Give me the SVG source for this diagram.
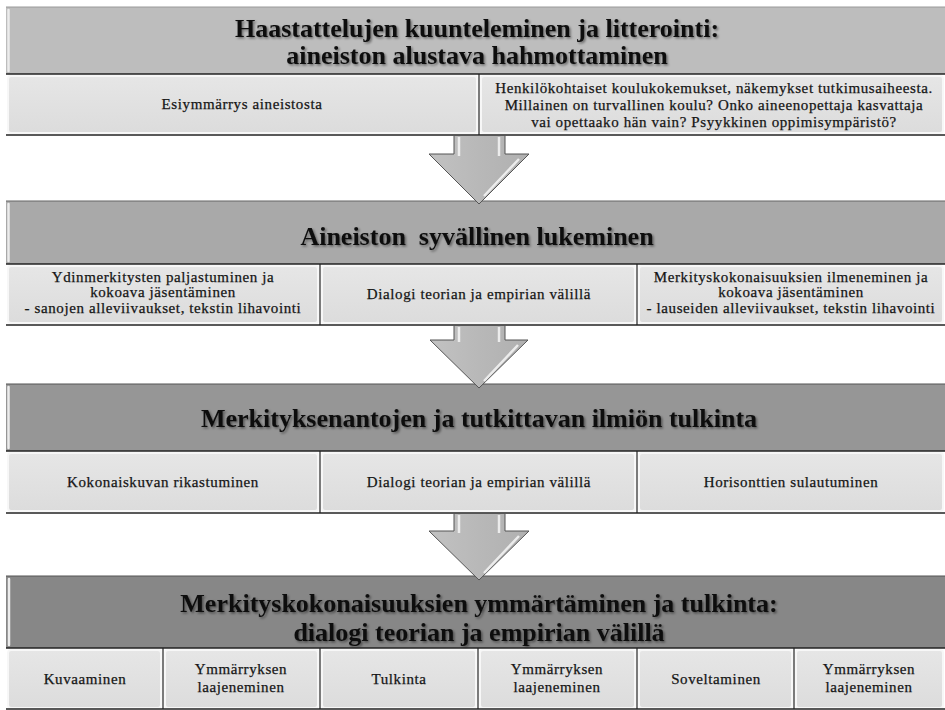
<svg xmlns="http://www.w3.org/2000/svg" width="945" height="710" viewBox="0 0 945 710">
  <defs>
    <linearGradient id="cellFill" x1="0" y1="0" x2="0" y2="1">
      <stop offset="0" stop-color="#e6e6e6"/>
      <stop offset="1" stop-color="#dcdcdc"/>
    </linearGradient>
    <linearGradient id="arrowFill" x1="0" y1="0" x2="1" y2="0">
      <stop offset="0" stop-color="#c2c2c2"/>
      <stop offset="0.5" stop-color="#b8b8b8"/>
      <stop offset="1" stop-color="#b0b0b0"/>
    </linearGradient>
    <filter id="shadow" x="-5%" y="-30%" width="110%" height="160%">
      <feDropShadow dx="1.5" dy="1.5" stdDeviation="1.2" flood-color="#000" flood-opacity="0.45"/>
    </filter>
  </defs>
  <style>
    .title { font-family: "Liberation Serif", "Times New Roman", serif; font-weight: bold; font-size: 26px; fill: #111; text-anchor: middle; }
    .label { font-family: "Liberation Serif", "Times New Roman", serif; font-size: 15px; letter-spacing: 0.6px; fill: #151515; stroke: #151515; stroke-width: 0.25; text-anchor: middle; }
    .cell { fill: url(#cellFill); stroke: #f7f7f7; stroke-width: 2; }
    .rule { stroke: #222; stroke-width: 1.5; fill: none; }
    .divider { stroke: #222; stroke-width: 1.2; }
    .bevel { stroke: #ececec; stroke-width: 2.5; fill: none; stroke-linecap: round; }
    .arrow { fill: url(#arrowFill); stroke: #555; stroke-width: 1; stroke-linejoin: miter; }
    .arrow-hi { stroke: #f2f2f2; stroke-width: 2.5; fill: none; opacity: 0.9; }
  </style>

  <rect width="945" height="710" fill="#ffffff"/>

  <!-- Stage 1 -->
  <g id="stage1">
    <rect x="6" y="7" width="939" height="67" fill="#bdbdbd"/>
    <line x1="6" y1="7" x2="945" y2="7" stroke="#9a9a9a" stroke-width="1"/>
    <path class="bevel" d="M8.5 71 V10"/>
    <g filter="url(#shadow)">
      <text class="title" x="477" y="37">Haastattelujen kuunteleminen ja litterointi:</text>
      <text class="title" x="477" y="64">aineiston alustava hahmottaminen</text>
    </g>
    <rect class="cell" x="8" y="76" width="469" height="57" rx="3"/>
    <rect class="cell" x="481" y="76" width="462" height="57" rx="3"/>
    <line class="divider" x1="479" y1="74" x2="479" y2="135"/>
    <line class="rule" x1="6" y1="74" x2="945" y2="74"/>
    <line class="rule" x1="6" y1="135" x2="945" y2="135"/>
    <text class="label" x="242" y="109">Esiymmärrys aineistosta</text>
    <text class="label" x="714" y="93">Henkilökohtaiset koulukokemukset, näkemykset tutkimusaiheesta.</text>
    <text class="label" x="714" y="110">Millainen on turvallinen koulu? Onko aineenopettaja kasvattaja</text>
    <text class="label" x="714" y="127">vai opettaako hän vain? Psyykkinen oppimisympäristö?</text>
  </g>

  <!-- Stage 2 -->
  <g id="stage2">
    <rect x="6" y="201" width="939" height="63" fill="#a9a9a9"/>
    <line x1="6" y1="201" x2="945" y2="201" stroke="#666" stroke-width="1.2"/>
    <path class="bevel" d="M8.5 261 V204"/>
    <g filter="url(#shadow)">
      <text class="title" x="477" y="245" xml:space="preserve">Aineiston  syvällinen lukeminen</text>
    </g>
    <rect class="cell" x="8" y="266" width="310" height="57" rx="3"/>
    <rect class="cell" x="322" y="266" width="313" height="57" rx="3"/>
    <rect class="cell" x="639" y="266" width="304" height="57" rx="3"/>
    <line class="divider" x1="320" y1="264" x2="320" y2="325"/>
    <line class="divider" x1="637" y1="264" x2="637" y2="325"/>
    <line class="rule" x1="6" y1="264" x2="945" y2="264"/>
    <line class="rule" x1="6" y1="325" x2="945" y2="325"/>
    <text class="label" x="163" y="282">Ydinmerkitysten paljastuminen ja</text>
    <text class="label" x="163" y="297">kokoava jäsentäminen</text>
    <text class="label" x="163" y="313">- sanojen alleviivaukset, tekstin lihavointi</text>
    <text class="label" x="479" y="299">Dialogi teorian ja empirian välillä</text>
    <text class="label" x="791" y="282">Merkityskokonaisuuksien ilmeneminen ja</text>
    <text class="label" x="791" y="297">kokoava jäsentäminen</text>
    <text class="label" x="791" y="313">- lauseiden alleviivaukset, tekstin lihavointi</text>
  </g>

  <!-- Stage 3 -->
  <g id="stage3">
    <rect x="6" y="384" width="939" height="67" fill="#969696"/>
    <line x1="6" y1="384" x2="945" y2="384" stroke="#555" stroke-width="1.2"/>
    <path class="bevel" d="M8.5 448 V387"/>
    <g filter="url(#shadow)">
      <text class="title" x="479" y="427">Merkityksenantojen ja tutkittavan ilmiön tulkinta</text>
    </g>
    <rect class="cell" x="8" y="453" width="310" height="58" rx="3"/>
    <rect class="cell" x="322" y="453" width="313" height="58" rx="3"/>
    <rect class="cell" x="639" y="453" width="304" height="58" rx="3"/>
    <line class="divider" x1="320" y1="451" x2="320" y2="513"/>
    <line class="divider" x1="637" y1="451" x2="637" y2="513"/>
    <line class="rule" x1="6" y1="451" x2="945" y2="451"/>
    <line class="rule" x1="6" y1="513" x2="945" y2="513"/>
    <text class="label" x="163" y="487">Kokonaiskuvan rikastuminen</text>
    <text class="label" x="479" y="487">Dialogi teorian ja empirian välillä</text>
    <text class="label" x="791" y="487">Horisonttien sulautuminen</text>
  </g>

  <!-- Stage 4 -->
  <g id="stage4">
    <rect x="6" y="576" width="939" height="72" fill="#878787"/>
    <line x1="6" y1="576" x2="945" y2="576" stroke="#555" stroke-width="1.2"/>
    <path class="bevel" d="M9 645 V579"/>
    <g filter="url(#shadow)">
      <text class="title" x="479" y="612">Merkityskokonaisuuksien ymmärtäminen ja tulkinta:</text>
      <text class="title" x="479" y="641">dialogi teorian ja empirian välillä</text>
    </g>
    <rect class="cell" x="8" y="650" width="153" height="58" rx="3"/>
    <rect class="cell" x="165" y="650" width="153" height="58" rx="3"/>
    <rect class="cell" x="322" y="650" width="154" height="58" rx="3"/>
    <rect class="cell" x="480" y="650" width="155" height="58" rx="3"/>
    <rect class="cell" x="639" y="650" width="153" height="58" rx="3"/>
    <rect class="cell" x="796" y="650" width="147" height="58" rx="3"/>
    <line class="divider" x1="163" y1="648" x2="163" y2="709"/>
    <line class="divider" x1="320" y1="648" x2="320" y2="709"/>
    <line class="divider" x1="478" y1="648" x2="478" y2="709"/>
    <line class="divider" x1="637" y1="648" x2="637" y2="709"/>
    <line class="divider" x1="794" y1="648" x2="794" y2="709"/>
    <line class="rule" x1="6" y1="648" x2="945" y2="648"/>
    <line class="rule" x1="6" y1="709" x2="945" y2="709"/>
    <text class="label" x="85" y="684">Kuvaaminen</text>
    <text class="label" x="241" y="674">Ymmärryksen</text>
    <text class="label" x="241" y="692">laajeneminen</text>
    <text class="label" x="399" y="684">Tulkinta</text>
    <text class="label" x="557" y="674">Ymmärryksen</text>
    <text class="label" x="557" y="692">laajeneminen</text>
    <text class="label" x="716" y="684">Soveltaminen</text>
    <text class="label" x="869" y="674">Ymmärryksen</text>
    <text class="label" x="869" y="692">laajeneminen</text>
  </g>

  <!-- Block arrows between stages -->
  <g id="connectors">
    <g id="arrow1">
      <polygon class="arrow" points="454,135.5 505,135.5 505,154 529,154 479,204 429,154 454,154"/>
      <path class="arrow-hi" d="M459 137 V156 M499 137 V156 M519 159 L484 196"/>
    </g>
    <g id="arrow2">
      <polygon class="arrow" points="454,325.5 505,325.5 505,340 528,340 479,388 430,340 454,340"/>
      <path class="arrow-hi" d="M459 327 V342 M499 327 V342 M518 345 L484 381"/>
    </g>
    <g id="arrow3">
      <polygon class="arrow" points="454,513.5 505,513.5 505,531 529,531 479,580 429,531 454,531"/>
      <path class="arrow-hi" d="M459 515 V533 M499 515 V533 M519 536 L484 573"/>
    </g>
  </g>
</svg>
